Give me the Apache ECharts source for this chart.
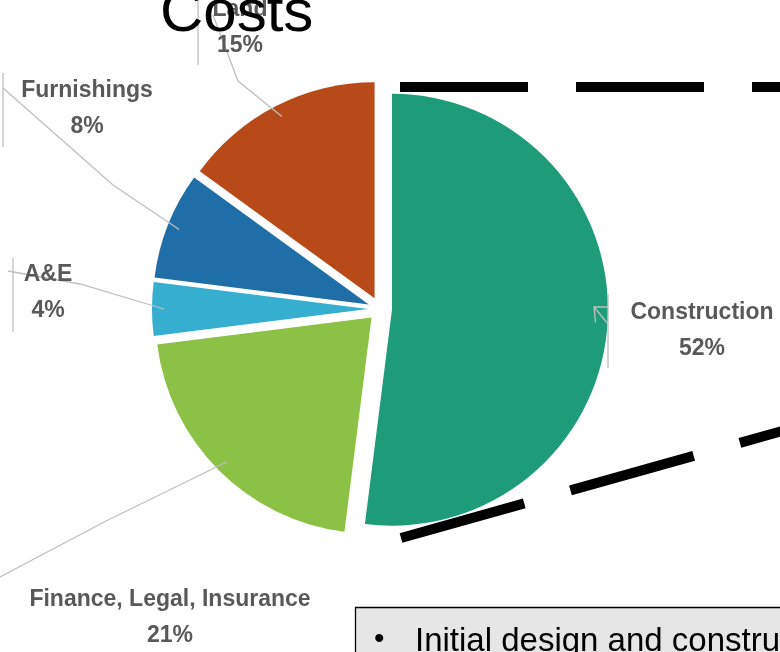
<!DOCTYPE html>
<html><head><meta charset="utf-8">
<script src="https://cdn.jsdelivr.net/npm/echarts@6/dist/echarts.min.js"></script>
<style>html,body{margin:0;padding:0;background:#fff;overflow:hidden}#c{width:780px;height:652px}</style>
</head><body><div id="c"></div>
<script>
// ---- data ----
const categories = ['Construction', 'Finance, Legal, Insurance', 'A&E', 'Furnishings', 'Land'];
const shares = [52, 21, 4, 8, 15];
const titleText = 'Costs';
const noteText = 'Initial design and construction';

// ---- styles / layout ----
const sliceColors = ['#1E9C7A', '#8BC145', '#36AECF', '#1F6EA8', '#B84A1A'];
const labelSpots = [[702, 331], [170, 618], [48, 293], [87, 109], [240, 28]];
// leader-line bend and end points (label attachment), per slice
const leaderBends = [[594, 307], [106, 521], [80, 284], [113, 185], [238, 81]];
const leaderEnds = [[608, 307], [0, 577], [8, 271], [3, 88], [213, 15]];

const chart = echarts.init(document.getElementById('c'), null, {renderer: 'canvas'});
const dashStyle = {stroke: '#000', lineWidth: 10, lineDash: [128, 48], lineCap: 'butt'};
const bracket = {stroke: '#BFBFBF', lineWidth: 1.3};
const pieBase = {
  type: 'pie', center: [380, 309], radius: 216, startAngle: 90, clockwise: true,
  percentPrecision: 0, animation: false, emphasis: {disabled: true}
};

chart.setOption({
  backgroundColor: '#fff',
  animation: false,
  series: [
    Object.assign({}, pieBase, {
      name: 'slices',
      z: 2,
      selectedMode: 'multiple',
      selectedOffset: 12,
      itemStyle: {borderWidth: 0},
      label: {show: false},
      labelLine: {show: false},
      data: categories.map((name, i) => ({
        name: name, value: shares[i], selected: true,
        itemStyle: {color: sliceColors[i]}
      }))
    }),
    Object.assign({}, pieBase, {
      name: 'labels',
      z: 4,
      silent: true,
      selectedMode: false,
      avoidLabelOverlap: false,
      itemStyle: {color: 'rgba(0,0,0,0)', borderWidth: 0},
      label: {
        show: true,
        position: 'outside',
        formatter: '{b}\n{d}%',
        color: '#595959',
        fontFamily: 'Liberation Sans',
        fontWeight: 'bold',
        fontSize: 23,
        lineHeight: 36,
        align: 'center',
        overflow: 'none'
      },
      labelLine: {show: true, length: 14, length2: 30, lineStyle: {color: '#BFBFBF', width: 1.3}},
      labelLayout: function (p) {
        const i = p.dataIndex;
        const s = labelSpots[i];
        const start = p.labelLinePoints ? p.labelLinePoints[0] : leaderBends[i];
        return {
          x: s[0], y: s[1], align: 'center', verticalAlign: 'middle', width: 400,
          labelLinePoints: [start, leaderBends[i], leaderEnds[i]]
        };
      },
      data: categories.map((name, i) => ({name: name, value: shares[i]}))
    })
  ],
  graphic: [
    {type: 'line', z: 50, shape: {x1: 400, y1: 87, x2: 800, y2: 87}, style: dashStyle},
    {type: 'line', z: 50, shape: {x1: 401, y1: 538, x2: 800, y2: 426}, style: dashStyle},
    {type: 'line', z: 1, shape: {x1: 198, y1: 0, x2: 198, y2: 65}, style: bracket},
    {type: 'line', z: 1, shape: {x1: 3, y1: 73, x2: 3, y2: 147}, style: bracket},
    {type: 'line', z: 1, shape: {x1: 13, y1: 258, x2: 13, y2: 332}, style: bracket},
    {type: 'line', z: 5, shape: {x1: 608, y1: 294, x2: 608, y2: 368}, style: bracket},
    {type: 'line', z: 5, shape: {x1: 594, y1: 307, x2: 608, y2: 324}, style: bracket},
    {type: 'text', z: 100, x: 160, y: 14,
      style: {text: titleText, fontFamily: 'Liberation Sans', fontSize: 60, fill: '#000', verticalAlign: 'middle', align: 'left'}},
    {type: 'rect', z: 60, shape: {x: 355.5, y: 607.5, width: 500, height: 80},
      style: {fill: '#E7E6E6', stroke: '#000', lineWidth: 1.3}},
    {type: 'text', z: 61, x: 374, y: 640,
      style: {text: '•', fontFamily: 'Liberation Sans', fontSize: 30, fill: '#000', verticalAlign: 'middle'}},
    {type: 'text', z: 61, x: 415, y: 642,
      style: {text: noteText, fontFamily: 'Liberation Sans', fontSize: 33, fill: '#000', verticalAlign: 'middle'}}
  ]
});
</script>
</body></html>
